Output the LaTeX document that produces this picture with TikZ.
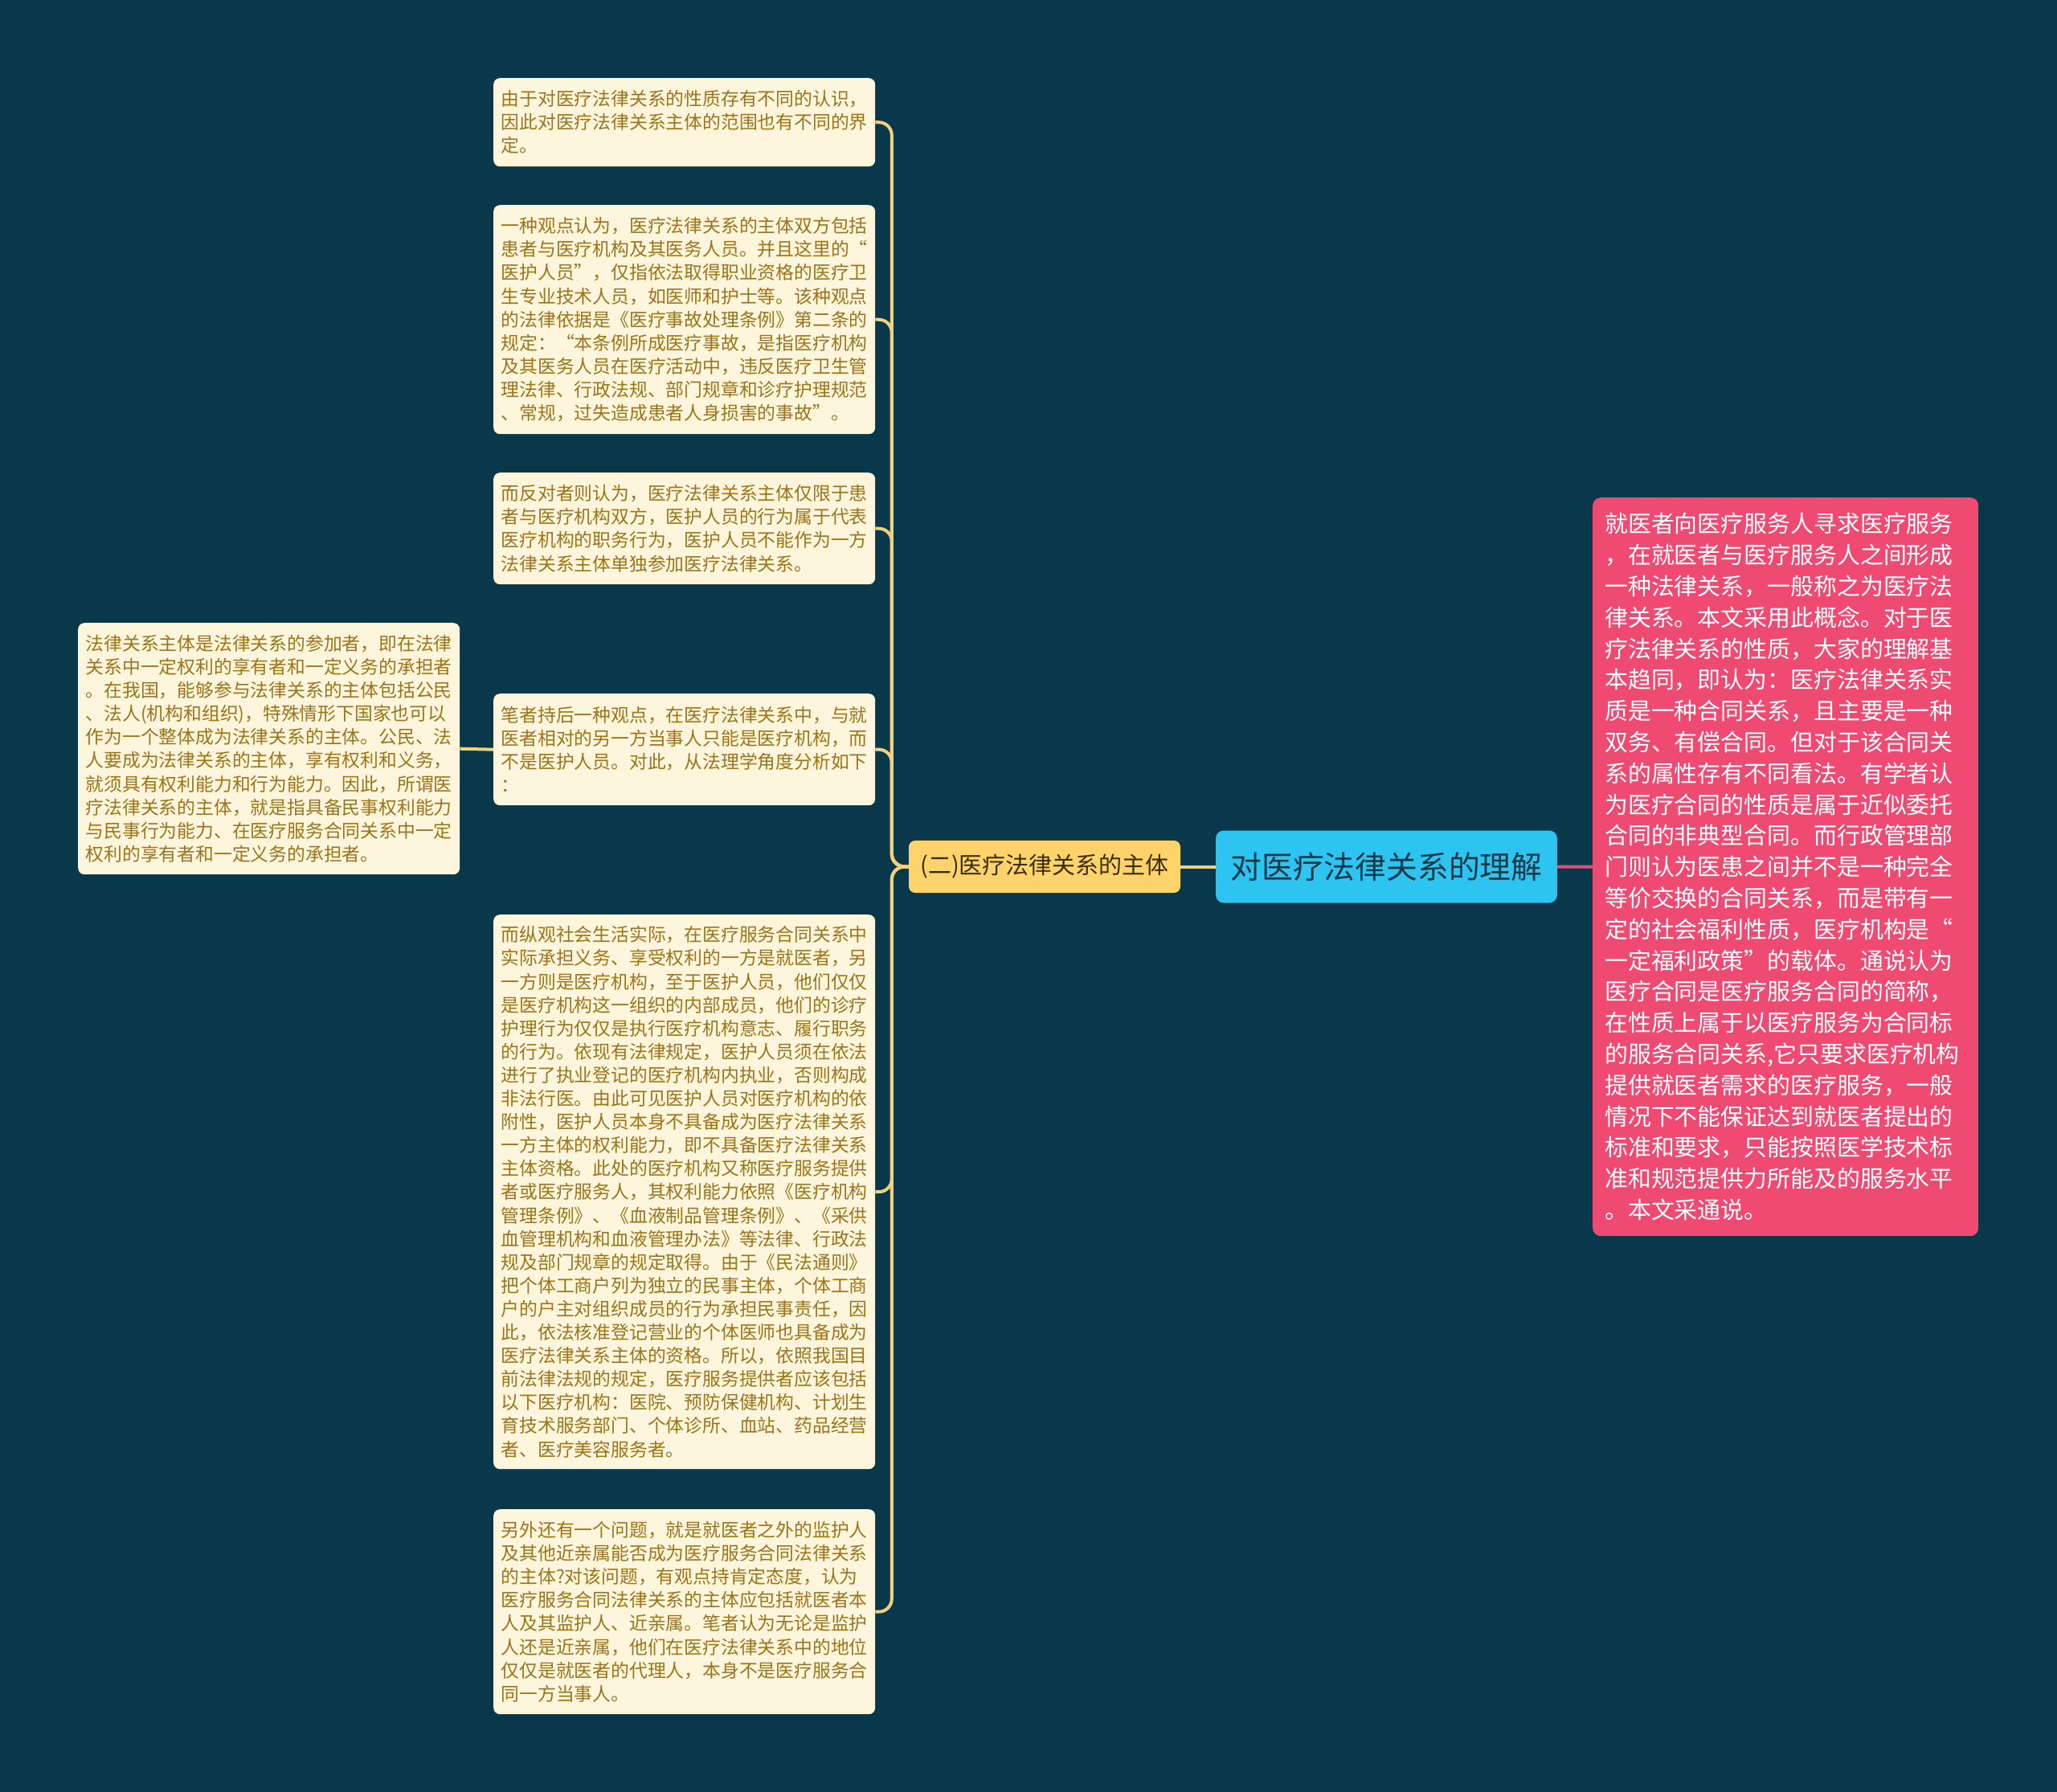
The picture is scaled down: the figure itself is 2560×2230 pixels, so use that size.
\documentclass[tikz,border=0pt]{standalone}
\usepackage{fontspec}
\newfontfamily\cjk{Noto Sans CJK SC}
\definecolor{bg}{HTML}{08384A}
\definecolor{cream}{HTML}{FDF5DC}
\definecolor{gold}{HTML}{9C7419}
\definecolor{midfill}{HTML}{FFD36B}
\definecolor{midtext}{HTML}{3A2E0E}
\definecolor{rootfill}{HTML}{2EC4F2}
\definecolor{roottext}{HTML}{163A4A}
\definecolor{pinkfill}{HTML}{EE4A72}
\definecolor{linkcol}{HTML}{F0D27C}
\definecolor{pinklink}{HTML}{E0507A}
\begin{document}
\begin{tikzpicture}[x=1pt,y=-1pt,
  leaf/.style={fill=cream, rounded corners=8pt, text=gold,
    font=\cjk\fontsize{22.8pt}{29.1pt}\selectfont, align=left,
    text width=456pt, inner xsep=9.5pt, inner ysep=0pt, anchor=north west},
  pinkbox/.style={fill=pinkfill, rounded corners=10pt, text=white,
    font=\cjk\fontsize{28.9pt}{38.8pt}\selectfont, align=left,
    text width=450pt, inner xsep=15pt, inner ysep=0pt, anchor=north west},
  rootbox/.style={fill=rootfill, rounded corners=10pt, text=roottext,
    font=\cjk\fontsize{38.8pt}{46pt}\selectfont,
    minimum width=425pt, minimum height=90pt, inner sep=0pt},
  midbox/.style={fill=midfill, rounded corners=8pt, text=midtext,
    font=\cjk\fontsize{29pt}{34pt}\selectfont,
    minimum width=338pt, minimum height=65pt, inner sep=0pt},
  link/.style={draw=linkcol, line width=4pt, rounded corners=16pt},
  plink/.style={draw=pinklink, line width=4pt}
]
\useasboundingbox (0,0) rectangle (2560,2230);
\fill[bg] (0,0) rectangle (2560,2230);

\node[leaf, minimum height=110pt] (b1) at (614,97) {由于对医疗法律关系的性质存有不同的认识，\\因此对医疗法律关系主体的范围也有不同的界\\定。};

\node[leaf, minimum height=285pt] (b2) at (614,255) {一种观点认为，医疗法律关系的主体双方包括\\患者与医疗机构及其医务人员。并且这里的“\\医护人员”，仅指依法取得职业资格的医疗卫\\生专业技术人员，如医师和护士等。该种观点\\的法律依据是《医疗事故处理条例》第二条的\\规定：“本条例所成医疗事故，是指医疗机构\\及其医务人员在医疗活动中，违反医疗卫生管\\理法律、行政法规、部门规章和诊疗护理规范\\、常规，过失造成患者人身损害的事故”。};

\node[leaf, minimum height=139pt] (b3) at (614,588) {而反对者则认为，医疗法律关系主体仅限于患\\者与医疗机构双方，医护人员的行为属于代表\\医疗机构的职务行为，医护人员不能作为一方\\法律关系主体单独参加医疗法律关系。};

\node[leaf, minimum height=139pt] (b4) at (614,863) {笔者持后一种观点，在医疗法律关系中，与就\\医者相对的另一方当事人只能是医疗机构，而\\不是医护人员。对此，从法理学角度分析如下\\：};

\node[leaf, minimum height=690pt] (b5) at (614,1138) {而纵观社会生活实际，在医疗服务合同关系中\\实际承担义务、享受权利的一方是就医者，另\\一方则是医疗机构，至于医护人员，他们仅仅\\是医疗机构这一组织的内部成员，他们的诊疗\\护理行为仅仅是执行医疗机构意志、履行职务\\的行为。依现有法律规定，医护人员须在依法\\进行了执业登记的医疗机构内执业，否则构成\\非法行医。由此可见医护人员对医疗机构的依\\附性，医护人员本身不具备成为医疗法律关系\\一方主体的权利能力，即不具备医疗法律关系\\主体资格。此处的医疗机构又称医疗服务提供\\者或医疗服务人，其权利能力依照《医疗机构\\管理条例》、《血液制品管理条例》、《采供\\血管理机构和血液管理办法》等法律、行政法\\规及部门规章的规定取得。由于《民法通则》\\把个体工商户列为独立的民事主体，个体工商\\户的户主对组织成员的行为承担民事责任，因\\此，依法核准登记营业的个体医师也具备成为\\医疗法律关系主体的资格。所以，依照我国目\\前法律法规的规定，医疗服务提供者应该包括\\以下医疗机构：医院、预防保健机构、计划生\\育技术服务部门、个体诊所、血站、药品经营\\者、医疗美容服务者。};

\node[leaf, minimum height=255pt] (b6) at (614,1878) {另外还有一个问题，就是就医者之外的监护人\\及其他近亲属能否成为医疗服务合同法律关系\\的主体?对该问题，有观点持肯定态度，认为\\医疗服务合同法律关系的主体应包括就医者本\\人及其监护人、近亲属。笔者认为无论是监护\\人还是近亲属，他们在医疗法律关系中的地位\\仅仅是就医者的代理人，本身不是医疗服务合\\同一方当事人。};

\node[leaf, minimum height=313pt] (lb) at (97,775) {法律关系主体是法律关系的参加者，即在法律\\关系中一定权利的享有者和一定义务的承担者\\。在我国，能够参与法律关系的主体包括公民\\、法人(机构和组织)，特殊情形下国家也可以\\作为一个整体成为法律关系的主体。公民、法\\人要成为法律关系的主体，享有权利和义务，\\就须具有权利能力和行为能力。因此，所谓医\\疗法律关系的主体，就是指具备民事权利能力\\与民事行为能力、在医疗服务合同关系中一定\\权利的享有者和一定义务的承担者。};

\node[pinkbox, minimum height=919pt] (pk) at (1982,619) {就医者向医疗服务人寻求医疗服务\\，在就医者与医疗服务人之间形成\\一种法律关系，一般称之为医疗法\\律关系。本文采用此概念。对于医\\疗法律关系的性质，大家的理解基\\本趋同，即认为：医疗法律关系实\\质是一种合同关系，且主要是一种\\双务、有偿合同。但对于该合同关\\系的属性存有不同看法。有学者认\\为医疗合同的性质是属于近似委托\\合同的非典型合同。而行政管理部\\门则认为医患之间并不是一种完全\\等价交换的合同关系，而是带有一\\定的社会福利性质，医疗机构是“\\一定福利政策”的载体。通说认为\\医疗合同是医疗服务合同的简称，\\在性质上属于以医疗服务为合同标\\的服务合同关系,它只要求医疗机构\\提供就医者需求的医疗服务，一般\\情况下不能保证达到就医者提出的\\标准和要求，只能按照医学技术标\\准和规范提供力所能及的服务水平\\。本文采通说。};

\node[rootbox] (root) at (1725.5,1078.5) {对医疗法律关系的理解};
\node[midbox] (yel) at (1300,1078.5) {(二)医疗法律关系的主体};

\foreach \b in {b1,b2,b3,b4,b5,b6}{
  \draw[link] (yel.west) -- ++(-21,0) |- (\b.east);
}
\draw[link] (b4.west) -- (lb.east);
\draw[link] (root.west) -- (yel.east);
\draw[plink] (root.east) -- (pk.west);
\end{tikzpicture}
\end{document}
